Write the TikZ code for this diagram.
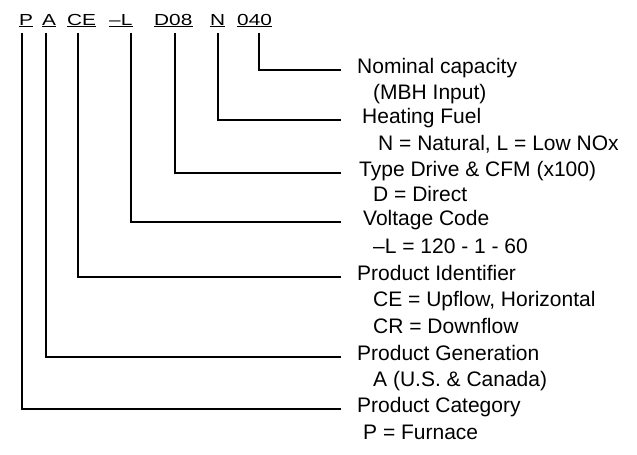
\documentclass[tikz,border=0pt]{standalone}
\usepackage{fontspec}
\setmainfont{Liberation Sans}
\usepackage{tikz}

\tikzset{
  code/.style={inner sep=0pt, anchor=base west, font=\fontsize{16}{18}\selectfont},
  heading/.style={inner sep=0pt, anchor=west, text height=0.72em, text depth=0pt,
    font=\fontsize{21}{25}\selectfont},
  detail/.style={heading},
  leader/.style={line width=1.1pt}
}

\begin{document}
\begin{tikzpicture}[x=1pt, y=-1pt]
\useasboundingbox (0,0) rectangle (637,455);

% Model number, one piece per node
\foreach \x/\name/\txt in {19/codeP/P, 42/codeA/A, 67/codeCE/CE, 109/codeL/{--L},
                           154/codeD/D08, 210/codeN/N, 237/codeCap/040} {
  \node[code] (\name) at (\x,25) {\scalebox{1.3}[1]{\txt}};
  \draw[line width=0.9pt] ([yshift=-1.5pt]\name.south west) -- ([yshift=-1.5pt]\name.south east);
}

% Descriptions on the right
\node[heading] (capacity) at (357,70)  {Nominal capacity};
\node[detail]  (capacityval) at (373,96) {(MBH Input)};
\node[heading] (fuel)     at (362,120) {Heating Fuel};
\node[detail]  (fuelval)  at (378,147) {N = Natural, L = Low NOx};
\node[heading] (drive)    at (359,173) {Type Drive \& CFM (x100)};
\node[detail]  (driveval) at (373,198) {D = Direct};
\node[heading] (voltage)  at (363,222) {Voltage Code};
\node[detail]  (voltageval) at (373,250) {--L = 120 - 1 - 60};
\node[heading] (ident)    at (357,277) {Product Identifier};
\node[detail]  (identup)  at (373,303) {CE = Upflow, Horizontal};
\node[detail]  (identdown) at (373,330) {CR = Downflow};
\node[heading] (gen)      at (357,357) {Product Generation};
\node[detail]  (genval)   at (373,383) {A (U.S. \& Canada)};
\node[heading] (cat)      at (357,409) {Product Category};
\node[detail]  (catval)   at (363,436) {P = Furnace};

% Leader lines stop short of the text
\coordinate (lineend) at (341,0);

\draw[leader] ([xshift=22pt,yshift=-8pt]codeCap.south west) |- (capacity.west -| lineend);
\draw[leader] ([xshift=8pt,yshift=-8pt]codeN.south west)    |- (fuel.west -| lineend);
\draw[leader] ([xshift=21pt,yshift=-8pt]codeD.south west)   |- (drive.west -| lineend);
\draw[leader] ([xshift=22pt,yshift=-8pt]codeL.south west)   |- (voltage.west -| lineend);
\draw[leader] ([xshift=11pt,yshift=-8pt]codeCE.south west)  |- (ident.west -| lineend);
\draw[leader] ([xshift=4pt,yshift=-8pt]codeA.south west)    |- (gen.west -| lineend);
\draw[leader] ([xshift=3pt,yshift=-8pt]codeP.south west)    |- (cat.west -| lineend);
\end{tikzpicture}
\end{document}
